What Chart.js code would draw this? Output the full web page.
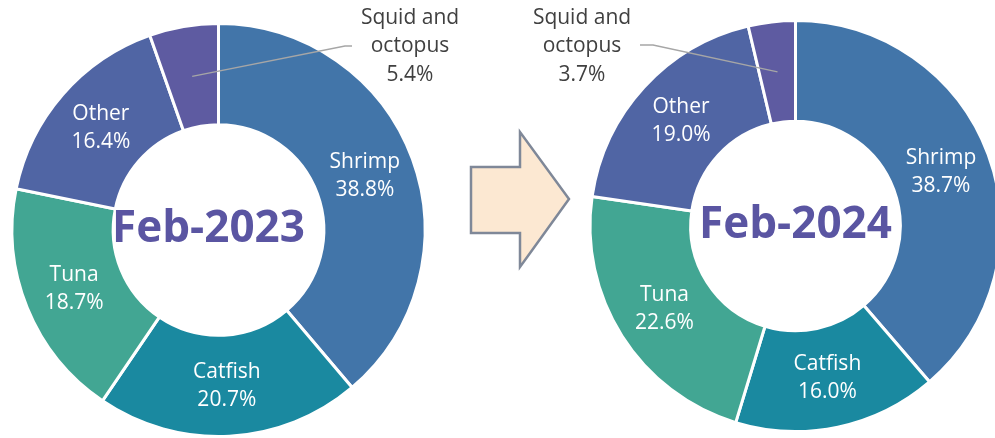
<!DOCTYPE html>
<html>
<head>
<meta charset="utf-8">
<script src="https://cdn.jsdelivr.net/npm/chart.js@4"></script>
<style>
  html, body { margin: 0; padding: 0; background: #fff; overflow: hidden; }
  body { width: 995px; height: 438px; position: relative; }
  canvas { position: absolute; top: 0; }
  #left { left: 0; }
  #right { left: 480px; }
  #arrow { position: absolute; left: 0; top: 0; }
</style>
</head>
<body>
<canvas id="left" width="480" height="438"></canvas>
<canvas id="right" width="525" height="438"></canvas>
<svg id="arrow" width="995" height="438">
  <polygon points="471,167 520,167 520,132 569,199 520,267 520,233 471,233"
    fill="#fce8d2" stroke="#7f8898" stroke-width="2.5" stroke-linejoin="miter"/>
</svg>
<script>
  const categories = ['Shrimp', 'Catfish', 'Tuna', 'Other', 'Squid and octopus'];
  const share2023 = [38.8, 20.7, 18.7, 16.4, 5.4];
  const share2024 = [38.7, 16.0, 22.6, 19.0, 3.7];
  const periods = ['Feb-2023', 'Feb-2024'];
  const sliceColors = ['#4275a9', '#1a89a0', '#42a693', '#5065a4', '#5e5ba1'];

  const FONT = "'Open Sans', 'Noto Sans', sans-serif";

  function pct(v) {
    return v.toFixed(1) + '%';
  }

  // labels inside the ring + one callout for the small slice
  const sliceLabels = {
    id: 'sliceLabels',
    afterDatasetsDraw(chart, args, opts) {
      const ctx = chart.ctx;
      const meta = chart.getDatasetMeta(0);
      const values = chart.data.datasets[0].data;
      ctx.save();
      ctx.textAlign = 'center';
      ctx.textBaseline = 'middle';
      ctx.font = `21px ${FONT}`;
      meta.data.forEach((arc, i) => {
        const p = arc.tooltipPosition();
        if (i === opts.calloutIndex) {
          const c = opts.callout;
          ctx.strokeStyle = '#a6a6a6';
          ctx.lineWidth = 1.3;
          ctx.beginPath();
          ctx.moveTo(p.x, p.y);
          ctx.lineTo(c.elbowX, c.lineY);
          ctx.lineTo(c.endX, c.lineY);
          ctx.stroke();
          ctx.fillStyle = '#404040';
          const lines = ['Squid and', 'octopus', pct(values[i])];
          lines.forEach((t, k) => ctx.fillText(t, c.textX, c.textY + k * 28.5));
          return;
        }
        ctx.fillStyle = '#ffffff';
        ctx.fillText(chart.data.labels[i], p.x, p.y - 14);
        ctx.fillText(pct(values[i]), p.x, p.y + 14);
      });

      // period in the hole
      const a0 = meta.data[0];
      ctx.font = `bold 44px ${FONT}`;
      ctx.textBaseline = 'alphabetic';
      ctx.fillStyle = '#5a55a2';
      ctx.fillText(opts.title, a0.x + (opts.titleOffsetX || 0), a0.y + 12);
      ctx.restore();
    },
  };

  function makeDonut(canvas, values, title, padding, callout, titleOffsetX) {
    return new Chart(canvas, {
      type: 'doughnut',
      data: {
        labels: categories,
        datasets: [{
          data: values,
          backgroundColor: sliceColors,
          borderColor: '#ffffff',
          borderWidth: 3,
          hoverOffset: 0,
        }],
      },
      options: {
        responsive: false,
        animation: false,
        cutout: '51%',
        layout: { padding },
        plugins: {
          legend: { display: false },
          tooltip: { enabled: false },
          sliceLabels: { calloutIndex: 4, callout, title, titleOffsetX },
        },
      },
      plugins: [sliceLabels],
    });
  }

  makeDonut(
    document.getElementById('left'),
    share2023,
    periods[0],
    { left: 9, right: 52, top: 22, bottom: -2 },
    { elbowX: 345, endX: 352, lineY: 46, textX: 410, textY: 18 },
    -10
  );

  makeDonut(
    document.getElementById('right'),
    share2024,
    periods[1],
    { left: 108, right: 2, top: 19, bottom: 5 },
    { elbowX: 173, endX: 160, lineY: 45, textX: 102, textY: 18 },
    0
  );
</script>
</body>
</html>
